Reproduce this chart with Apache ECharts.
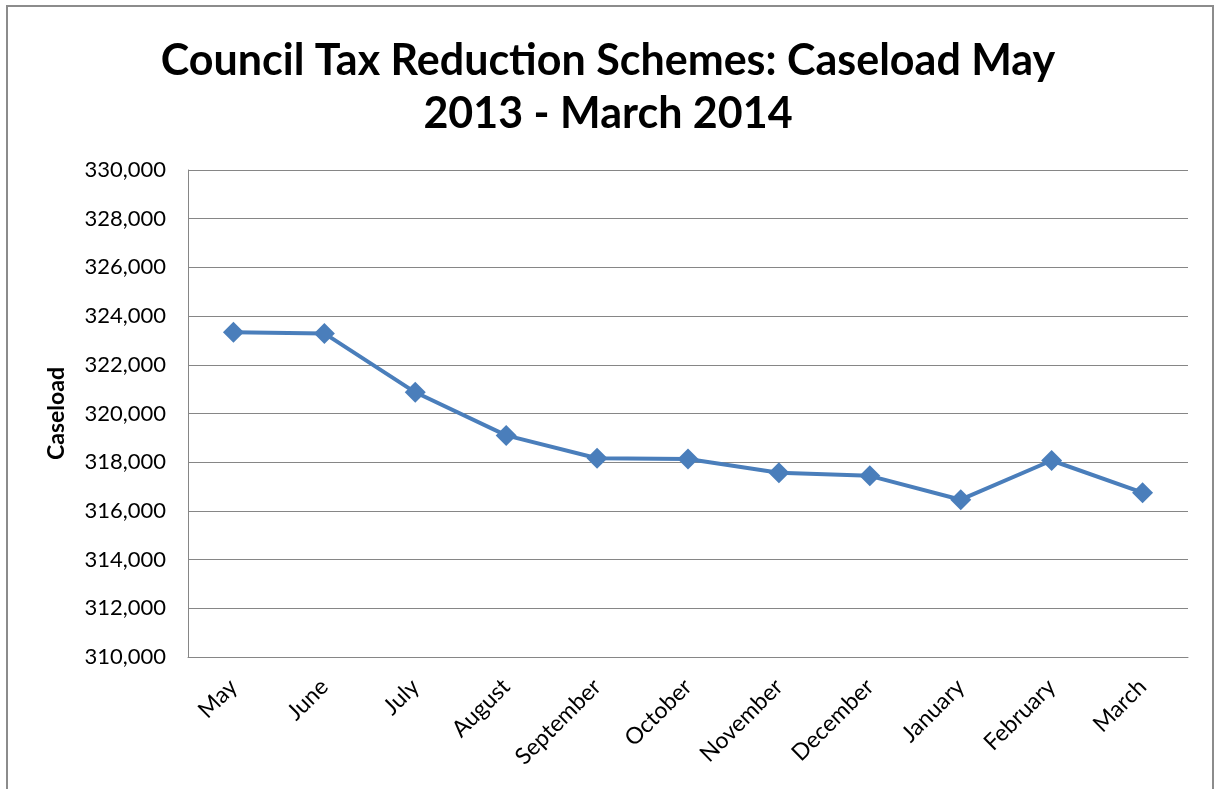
<!DOCTYPE html>
<html>
<head>
<meta charset="utf-8">
<script src="https://cdn.jsdelivr.net/npm/echarts@6/dist/echarts.min.js"></script>
<style>
  html, body { margin: 0; padding: 0; background: #ffffff; }
  #chart { width: 1216px; height: 789px; }
</style>
</head>
<body>
<div id="chart"></div>
<script>
// Monthly caseload, May 2013 - March 2014
const months = ['May', 'June', 'July', 'August', 'September', 'October',
                'November', 'December', 'January', 'February', 'March'];
const caseload = [323340, 323290, 320870, 319100, 318160, 318130,
                  317570, 317440, 316460, 318070, 316750];

const yMin = 310000;
const yMax = 330000;
const yStep = 2000;

const chart = echarts.init(document.getElementById('chart'), null, { renderer: 'canvas' });

chart.setOption({
  backgroundColor: '#ffffff',
  animation: false,
  title: {
    text: 'Council Tax Reduction Schemes: Caseload May\n2013 - March 2014',
    left: 'center',
    top: 30,
    textStyle: {
      fontFamily: 'Lato',
      fontWeight: 'bold',
      fontSize: 43,
      lineHeight: 53,
      color: '#000000'
    }
  },
  graphic: [{
    type: 'rect',
    shape: { x: 7, y: 6, width: 1206, height: 800 },
    style: { fill: 'none', stroke: '#8c8c8c', lineWidth: 2 },
    silent: true
  }],
  grid: { left: 188, right: 28, top: 170, bottom: 132 },
  xAxis: {
    type: 'category',
    data: months,
    boundaryGap: true,
    axisLine: { lineStyle: { color: '#868686', width: 1 } },
    axisTick: { show: false },
    axisLabel: {
      rotate: 45,
      margin: 26,
      interval: 0,
      fontFamily: 'Lato',
      fontSize: 23,
      color: '#000000'
    }
  },
  yAxis: {
    type: 'value',
    min: yMin,
    max: yMax,
    interval: yStep,
    name: 'Caseload',
    nameLocation: 'middle',
    nameGap: 120,
    nameTextStyle: {
      fontFamily: 'Lato',
      fontWeight: 'bold',
      fontSize: 23,
      color: '#000000'
    },
    axisLine: { show: true, lineStyle: { color: '#868686', width: 1 } },
    axisTick: { show: false },
    splitLine: { lineStyle: { color: '#868686', width: 1 } },
    axisLabel: {
      margin: 22,
      fontFamily: 'Lato',
      fontSize: 22,
      color: '#000000',
      formatter: v => v.toLocaleString('en-GB')
    }
  },
  series: [{
    type: 'line',
    data: caseload,
    symbol: 'diamond',
    symbolSize: 21,
    lineStyle: { color: '#4a7ebb', width: 4 },
    itemStyle: { color: '#4a7ebb' }
  }]
});
</script>
</body>
</html>
